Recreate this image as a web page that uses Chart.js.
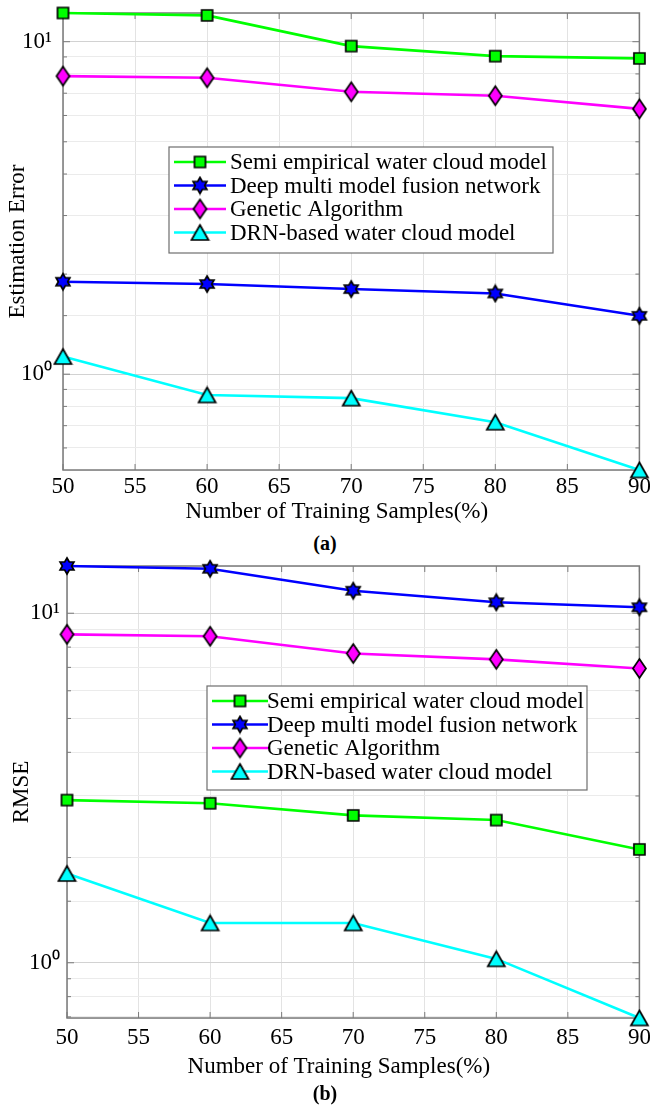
<!DOCTYPE html>
<html>
<head>
<meta charset="utf-8">
<script src="https://cdn.jsdelivr.net/npm/chart.js@4.4.1/dist/chart.umd.min.js"></script>
<style>
body { margin: 0; background: #fff; }
#page { position: relative; width: 650px; height: 1105px; overflow: hidden; background: #fff; }
canvas { position: absolute; left: 0; }
.cap { position: absolute; left: 0; width: 650px; text-align: center; line-height: 24px;
       font: bold 20px "Liberation Serif", "Times New Roman", serif; }
</style>
</head>
<body>
<div id="page">
  <canvas id="chartA" width="650" height="530" style="top:0px"></canvas>
  <div class="cap" style="top:532px">(a)</div>
  <canvas id="chartB" width="650" height="530" style="top:553px"></canvas>
  <div class="cap" style="top:1082px">(b)</div>
</div>
<script>
// x axis: percentage of training samples
const xSamples = [50, 60, 70, 80, 90];
const xTicks = [50, 55, 60, 65, 70, 75, 80, 85, 90];

const seriesNames = [
  "Semi empirical water cloud model",
  "Deep multi model fusion network",
  "Genetic Algorithm",
  "DRN-based water cloud model"
];

// (a) estimation error
const errSemi = [12.2, 12.0, 9.70, 9.05, 8.91];
const errDeep = [1.897, 1.867, 1.803, 1.749, 1.498];
const errGA   = [7.88, 7.79, 7.07, 6.88, 6.28];
const errDRN  = [1.13, 0.866, 0.847, 0.717, 0.515];

// (b) RMSE
const rmseSemi = [2.92, 2.86, 2.64, 2.56, 2.11];
const rmseDeep = [13.65, 13.4, 11.6, 10.75, 10.4];
const rmseGA   = [8.70, 8.59, 7.67, 7.38, 6.95];
const rmseDRN  = [1.80, 1.30, 1.30, 1.026, 0.695];

const lineColors = ["#00ff00", "#0000ff", "#ff00ff", "#00ffff"];
const FONT = '"Liberation Serif", "Times New Roman", serif';

Chart.defaults.font.family = FONT;
Chart.defaults.font.size = 23;
Chart.defaults.color = "#000";

// markers drawn like matlab: filled, black edge
function makeMarker(shape, fill, w, h) {
  const c = document.createElement("canvas");
  c.width = w + 4; c.height = h + 4;
  const g = c.getContext("2d");
  const cx = c.width / 2, cy = c.height / 2;
  g.beginPath();
  if (shape === "square") {
    g.rect(cx - w / 2, cy - h / 2, w, h);
  } else if (shape === "diamond") {
    g.moveTo(cx, cy - h / 2); g.lineTo(cx + w / 2, cy);
    g.lineTo(cx, cy + h / 2); g.lineTo(cx - w / 2, cy);
    g.closePath();
  } else if (shape === "triangle") {
    g.moveTo(cx, cy - h / 2); g.lineTo(cx + w / 2, cy + h / 2);
    g.lineTo(cx - w / 2, cy + h / 2); g.closePath();
  } else if (shape === "hexagram") {
    const R = w / 2, r = R / Math.sqrt(3);
    for (let k = 0; k < 12; k++) {
      const ang = -Math.PI / 2 + k * Math.PI / 6;
      const rad = k % 2 === 0 ? R : r;
      const px = cx + rad * Math.cos(ang), py = cy + rad * Math.sin(ang);
      if (k === 0) g.moveTo(px, py); else g.lineTo(px, py);
    }
    g.closePath();
  }
  g.fillStyle = fill; g.fill();
  g.strokeStyle = "#000"; g.lineWidth = 1.7; g.stroke();
  return c;
}

const markers = [
  makeMarker("square", "#00ff00", 11, 11),
  makeMarker("hexagram", "#0000ff", 16, 16),
  makeMarker("diamond", "#ff00ff", 13, 19),
  makeMarker("triangle", "#00ffff", 17, 15)
];

function isDecade(v) {
  const e = Math.log10(v);
  return Math.abs(e - Math.round(e)) < 1e-9;
}
const sup = { 0: "\u2070", 1: "\u00b9" };

// box + inward tick marks
const framePlugin = {
  id: "frame",
  beforeDatasetsDraw(chart) {
    const { ctx, chartArea: a, scales: { x, y } } = chart;
    ctx.save();
    ctx.strokeStyle = "#7a7a7a";
    ctx.lineWidth = 1;
    ctx.beginPath();
    x.ticks.forEach(t => {
      const px = x.getPixelForValue(t.value);
      ctx.moveTo(px, a.bottom); ctx.lineTo(px, a.bottom - 6);
      ctx.moveTo(px, a.top); ctx.lineTo(px, a.top + 6);
    });
    y.ticks.forEach(t => {
      if (t.value <= y.min || t.value >= y.max) return;
      const py = y.getPixelForValue(t.value);
      const len = isDecade(t.value) ? 7 : 4;
      ctx.moveTo(a.left, py); ctx.lineTo(a.left + len, py);
      ctx.moveTo(a.right, py); ctx.lineTo(a.right - len, py);
    });
    ctx.stroke();
    ctx.lineWidth = 1.5;
    ctx.strokeRect(a.left, a.top, a.right - a.left, a.bottom - a.top);
    ctx.restore();
  }
};

// matlab style legend box (line + marker + text)
const boxLegend = {
  id: "boxLegend",
  afterDraw(chart, args, o) {
    const { ctx } = chart;
    ctx.save();
    ctx.fillStyle = "#fff";
    ctx.fillRect(o.x, o.y, o.w, o.h);
    ctx.strokeStyle = "#6e6e6e";
    ctx.lineWidth = 1.2;
    ctx.strokeRect(o.x, o.y, o.w, o.h);
    ctx.font = "23px " + FONT;
    ctx.textBaseline = "middle";
    chart.data.datasets.forEach((ds, i) => {
      const cy = o.y + o.first + i * o.step;
      ctx.strokeStyle = ds.borderColor;
      ctx.lineWidth = ds.borderWidth;
      ctx.beginPath();
      ctx.moveTo(o.x + 5, cy); ctx.lineTo(o.x + o.mx * 2 - 5, cy);
      ctx.stroke();
      const m = ds.pointStyle;
      ctx.drawImage(m, o.x + o.mx - m.width / 2, cy - m.height / 2);
      ctx.fillStyle = "#000";
      ctx.fillText(ds.label, o.x + o.tx, cy + 1);
    });
    ctx.restore();
  }
};

function buildChart(id, yTitle, series, lay) {
  const yMin = Math.min(...series.flat());
  const yMax = Math.max(...series.flat());
  const datasets = series.map((vals, i) => ({
    label: seriesNames[i],
    data: xSamples.map((x, j) => ({ x: x, y: vals[j] })),
    borderColor: lineColors[i],
    backgroundColor: lineColors[i],
    borderWidth: 2.6,
    pointStyle: markers[i],
    pointRadius: 8,
    tension: 0,
    clip: false
  }));

  return new Chart(document.getElementById(id), {
    type: "line",
    data: { datasets: datasets },
    options: {
      responsive: false,
      animation: false,
      devicePixelRatio: 1,
      layout: { padding: { top: lay.top, right: lay.right, left: 0, bottom: 0 } },
      plugins: {
        legend: { display: false },
        tooltip: { enabled: false },
        boxLegend: lay.legend
      },
      scales: {
        x: {
          type: "linear",
          min: 50, max: 90,
          afterBuildTicks: s => { s.ticks = xTicks.map(v => ({ value: v })); },
          afterFit: s => { s.height = lay.xHeight; s.paddingLeft = 0; s.paddingRight = 0; },
          ticks: { autoSkip: false, maxRotation: 0, padding: lay.xTickPad, font: { size: 23 } },
          grid: { color: "#e3e3e3", lineWidth: 1, drawTicks: false },
          border: { display: false },
          title: {
            // trailing spaces nudge the label left like the original figure
            display: true, text: "Number of Training Samples(%)     ",
            font: { size: 23 }, padding: { top: 0, bottom: lay.xTitlePad }
          }
        },
        y: {
          type: "logarithmic",
          min: yMin, max: yMax,
          afterFit: s => { s.width = lay.left; s.paddingTop = 0; s.paddingBottom = 0; },
          ticks: {
            autoSkip: false, padding: lay.yTickPad, font: { size: 23 },
            callback: v => isDecade(v) ? "10" + sup[Math.round(Math.log10(v))] : ""
          },
          grid: {
            drawTicks: false,
            color: c => (c.tick && isDecade(c.tick.value)) ? "#d2d2d2" : "#ebebeb",
            lineWidth: 1
          },
          border: { display: false },
          title: {
            display: true, text: yTitle,
            font: { size: 23 }, padding: { top: lay.yTitlePad, bottom: 0 }
          }
        }
      }
    },
    plugins: [framePlugin, boxLegend]
  });
}

buildChart("chartA", "Estimation Error", [errSemi, errDeep, errGA, errDRN], {
  top: 13, right: 9, left: 63, xHeight: 60, xTickPad: 3, xTitlePad: 4,
  yTickPad: 11, yTitlePad: 4,
  legend: { x: 169, y: 147, w: 384, h: 106, first: 15, step: 23.5, mx: 31, tx: 61 }
});

buildChart("chartB", "RMSE", [rmseSemi, rmseDeep, rmseGA, rmseDRN], {
  top: 13, right: 10, left: 67, xHeight: 65, xTickPad: 6, xTitlePad: 2,
  yTickPad: 7, yTitlePad: 8,
  legend: { x: 207, y: 133, w: 380, h: 104, first: 15, step: 23.5, mx: 33, tx: 60 }
});
</script>
</body>
</html>
